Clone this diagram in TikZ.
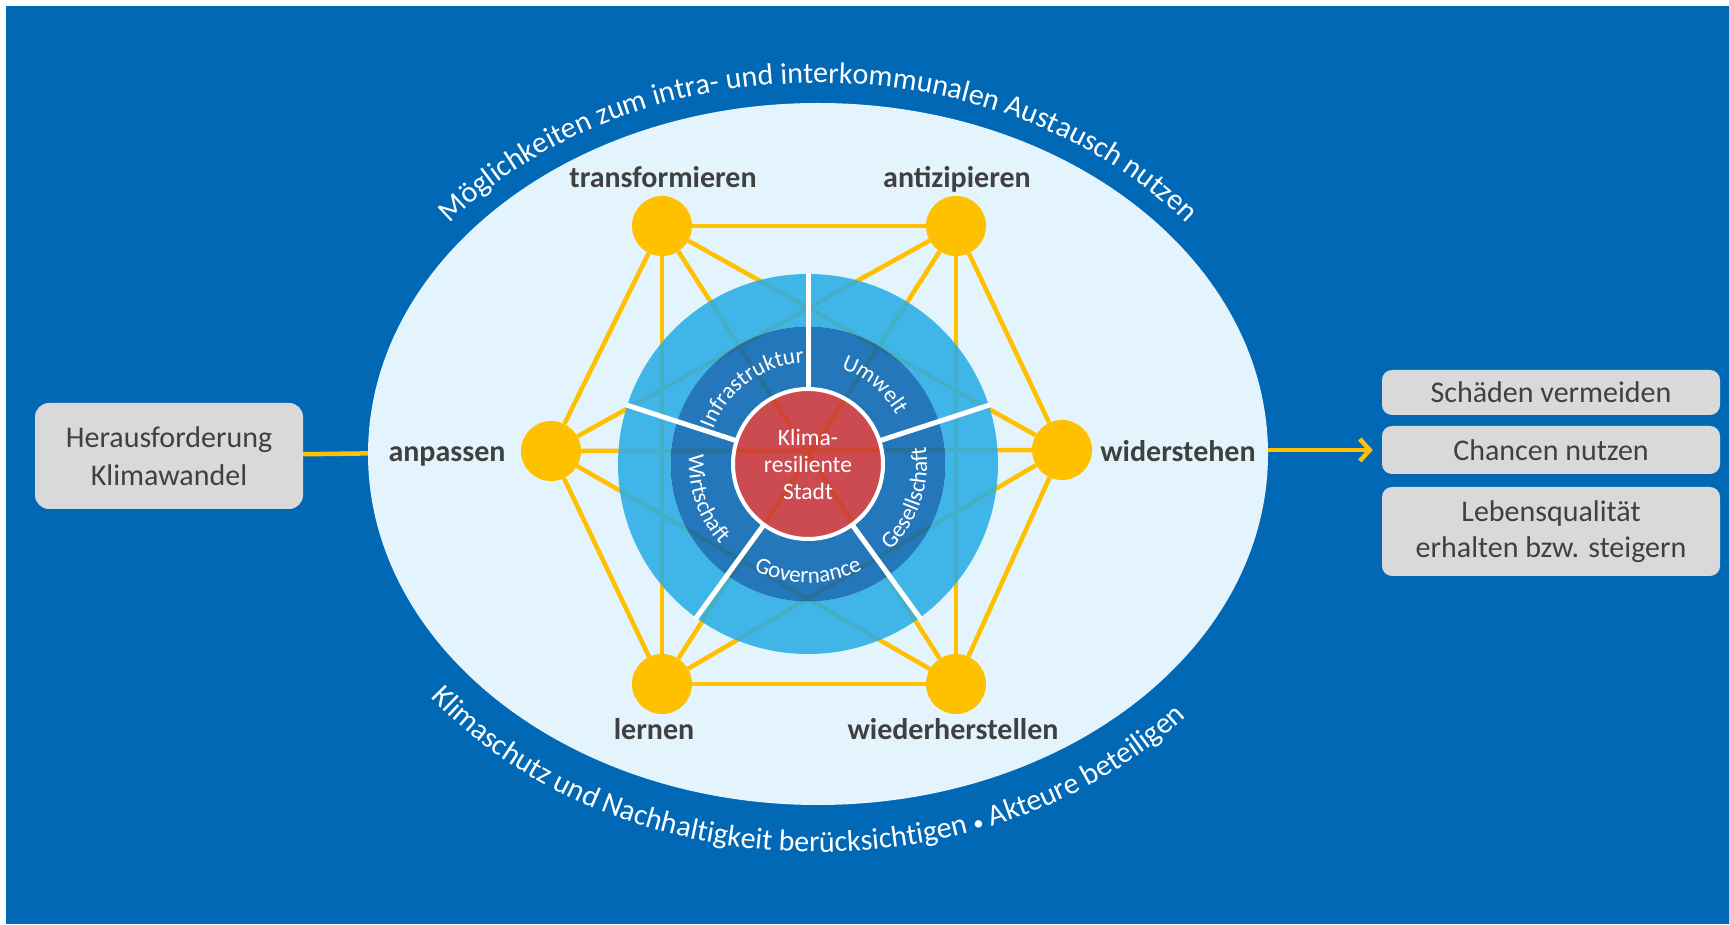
\documentclass[tikz,border=0pt]{standalone}
\usepackage{fontspec}
\setmainfont{Carlito}
\usetikzlibrary{decorations.text, arrows.meta, calc}
\pgfdeclarelayer{bg}
\pgfdeclarelayer{ell}
\pgfdeclarelayer{edges}
\pgfsetlayers{bg,ell,edges,main}
\definecolor{bgblue}{HTML}{0068B4}
\definecolor{ellfill}{HTML}{E3F4FC}
\definecolor{ygold}{HTML}{FFC000}
\definecolor{lblue}{HTML}{2AADE5}
\definecolor{dblue}{HTML}{0A66B2}
\definecolor{cred}{HTML}{C8343A}
\definecolor{bgray}{HTML}{D9D9D9}
\definecolor{tgray}{HTML}{404040}
\newcommand\ringfont{\fontsize{23}{27}\selectfont}
\newcommand\arcfont{\fontsize{30}{34}\selectfont}
\newcommand\dotfont{\fontsize{21}{25}\selectfont}
\begin{document}
\begin{tikzpicture}[x=1pt,y=1pt,
  dot/.style={circle, fill=ygold, minimum size=60pt, inner sep=0pt},
  lbl/.style={font=\fontsize{30}{36}\selectfont\bfseries, text=tgray, anchor=base, inner sep=0pt},
  gbox/.style={fill=bgray, rounded corners=10pt, text=tgray, font=\fontsize{30}{36}\selectfont, align=center, inner sep=0pt, minimum width=338pt},
  edge/.style={draw=ygold, line width=4.5pt},
  link/.style={draw=ygold, line width=4.5pt},
  ringtext/.style={decorate, decoration={text along path, text align=center, text color=white, text={|\ringfont|#1}}},
  arctext/.style={decorate, decoration={text along path, text align=center, text color=white, text={|\arcfont|#1}}}
  ]
\useasboundingbox (0,0) rectangle (1729,924);
\begin{pgfonlayer}{bg}
  \fill[white] (0,0) rectangle (1729,924);
  \fill[bgblue] (6,0) rectangle (1729,918);
\end{pgfonlayer}
\begin{pgfonlayer}{ell}
  \fill[ellfill] (818,470) ellipse[x radius=450, y radius=351];
\end{pgfonlayer}

\coordinate (C) at (808,460);
\coordinate (E) at (818,470);

% boxes
\node[gbox, minimum width=268pt, minimum height=106pt, rounded corners=14pt, font=\fontsize{30}{38}\selectfont] (lbox) at (169,468) {Herausforderung\\Klimawandel};
\node[gbox, minimum height=45pt] (box1) at (1551,531.5) {Schäden vermeiden};
\node[gbox, minimum height=48pt] (box2) at (1551,474) {Chancen nutzen};
\node[gbox, minimum height=89pt] (box3) at (1551,392.5) {Lebensqualität\\erhalten bzw. steigern};

% network nodes
\node[dot] (tr) at (662,698) {};
\node[dot] (an) at (956,698) {};
\node[dot] (ap) at (551,473) {};
\node[dot] (wi) at (1062,474) {};
\node[dot] (le) at (662,240) {};
\node[dot] (wh) at (956,240) {};

% rings
\fill[lblue, fill opacity=.88, even odd rule] (C) circle[radius=190] (C) circle[radius=137.5];
\fill[dblue, fill opacity=.88, even odd rule] (C) circle[radius=137.5] (C) circle[radius=75];
\node[circle, minimum size=150pt, inner sep=0pt, fill=cred, fill opacity=.88, draw=white, draw opacity=1, text opacity=1, line width=4pt, align=center, text=white, font=\fontsize{23.5}{27}\selectfont] (city) at (C) {Klima-\\resiliente\\Stadt};
\foreach \t in {90,162,234,306,18}
  \draw[white, line width=5pt] ($(C)+(\t:75)$) -- ($(C)+(\t:191)$);

% ring texts
\path[ringtext=Infrastruktur] (C) ++(170:101) arc[start angle=170, end angle=82, radius=101];
\path[ringtext=Umwelt] (C) ++(92:101) arc[start angle=92, end angle=8, radius=101];
\path[ringtext=Gesellschaft] (C) ++(-62:119) arc[start angle=-62, end angle=24, radius=119];
\path[ringtext=Governance] (C) ++(-133:119) arc[start angle=-133, end angle=-47, radius=119];
\path[ringtext=Wirtschaft] (C) ++(156:119) arc[start angle=156, end angle=242, radius=119];

% arc texts
\path[arctext={Möglichkeiten zum intra- und interkommunalen Austausch nutzen}] (E) ++(180:470 and 371) arc[start angle=180, end angle=0, x radius=470, y radius=371];
\path[arctext={Klimaschutz und Nachhaltigkeit berücksichtigen |\dotfont|•|\arcfont| Akteure beteiligen}] (E) ++(180:490 and 398) arc[start angle=180, end angle=356, x radius=490, y radius=398];

% labels
\node[lbl] (ltr) at (663,736) {transformieren};
\node[lbl] (lan) at (957,736) {antizipieren};
\node[lbl] (lap) at (447,462) {anpassen};
\node[lbl] (lwi) at (1178,462) {widerstehen};
\node[lbl] (lle) at (654,185) {lernen};
\node[lbl] (lwh) at (953,185) {wiederherstellen};

\begin{pgfonlayer}{edges}
  \foreach \a/\b in {tr/an, le/wh, tr/le, an/wh, ap/tr, ap/le, wi/an, wi/wh, ap/wi, tr/wh, an/le, tr/wi, an/ap, ap/wh, wi/le}
    \draw[edge] (\a) -- (\b);
\end{pgfonlayer}
\begin{pgfonlayer}{bg}
  \draw[link] (lbox) -- (ap);
  \draw[link, -{Straight Barb[length=10pt, width=22pt]}, shorten >=9pt] (wi) -- (box2);
\end{pgfonlayer}
\end{tikzpicture}
\end{document}
